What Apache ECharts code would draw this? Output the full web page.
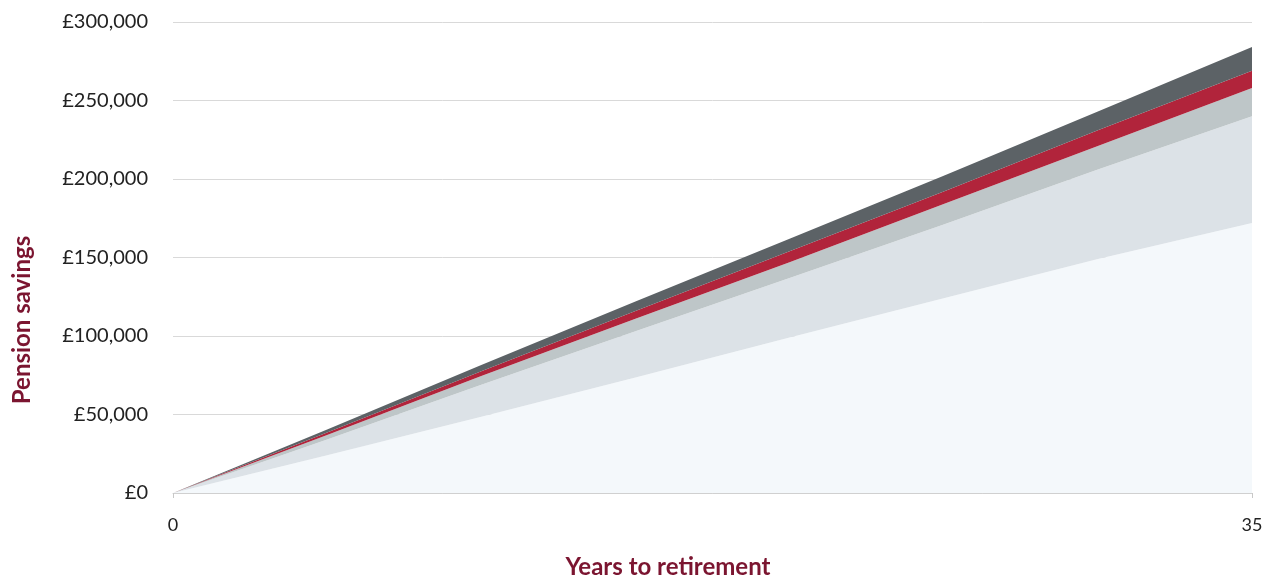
<!DOCTYPE html>
<html>
<head>
<meta charset="utf-8">
<script src="https://cdn.jsdelivr.net/npm/echarts@6/dist/echarts.min.js"></script>
<style>
html,body{margin:0;padding:0;background:#fff;}
#chart{width:1274px;height:581px;}
</style>
</head>
<body>
<div id="chart"></div>
<script>
// Years to retirement
const years = [0, 5, 10, 15, 20, 25, 30, 35];
// Band thickness (£) stacked from bottom to top
const band1 = [0, 24000, 48500, 73500, 99000, 124000, 149000, 172000];
const band2 = [0, 10000, 20500, 29500, 38000, 47000, 57000, 68000];
const band3 = [0, 3000, 5500, 8000, 10000, 13000, 15000, 18000];
const band4 = [0, 1500, 3000, 5000, 7000, 8000, 10000, 11000];
const band5 = [0, 2000, 4000, 6000, 8000, 10000, 12000, 15000];
const yTicks = [0, 50000, 100000, 150000, 200000, 250000, 300000];
const xTickLabels = ['0', '35'];

const colors = ['#f4f8fb', '#dce2e7', '#bec6c8', '#b1243b', '#5c6266'];
const bands = [band1, band2, band3, band4, band5];

const chart = echarts.init(document.getElementById('chart'));
const fontFamily = 'Lato, "Open Sans", sans-serif';
const last = years.length - 1;
const showEnds = (idx) => idx === 0 || idx === last;

chart.setOption({
  animation: false,
  grid: {left: 173, right: 22, top: 22, bottom: 88},
  xAxis: {
    type: 'category', boundaryGap: false, data: years.map(String),
    axisLine: {show: true, lineStyle: {color: '#d0d0d0', width: 1}},
    axisTick: {show: true, length: 5, interval: showEnds, lineStyle: {color: '#c8c8c8'}},
    axisLabel: {color: '#222', fontSize: 18, fontFamily: fontFamily, margin: 23,
      interval: showEnds,
      formatter: (v) => xTickLabels.indexOf(v) >= 0 ? v : ''},
    splitLine: {show: false}
  },
  yAxis: {
    type: 'value', min: yTicks[0], max: yTicks[yTicks.length - 1], interval: 50000,
    axisLine: {show: false}, axisTick: {show: false},
    axisLabel: {
      color: '#222', fontSize: 20, fontFamily: fontFamily, margin: 25,
      formatter: v => '£' + v.toLocaleString('en-GB')
    },
    splitLine: {show: true, lineStyle: {color: '#d9d9d9', width: 1}}
  },
  graphic: [
    {type: 'text', rotation: Math.PI / 2, x: 22, y: 320,
     style: {text: 'Pension savings', fill: '#7b1530', font: 'bold 24px ' + fontFamily,
             textAlign: 'center', textVerticalAlign: 'middle'}},
    {type: 'text', x: 668, y: 567,
     style: {text: 'Years to retirement', fill: '#7b1530', font: 'bold 24px ' + fontFamily,
             textAlign: 'center', textVerticalAlign: 'middle'}}
  ],
  series: bands.map((b, i) => ({
    type: 'line', stack: 'total', symbol: 'none', smooth: false,
    lineStyle: {width: 0},
    areaStyle: {color: colors[i], opacity: 1},
    z: 2,
    data: b
  }))
});
</script>
</body>
</html>
